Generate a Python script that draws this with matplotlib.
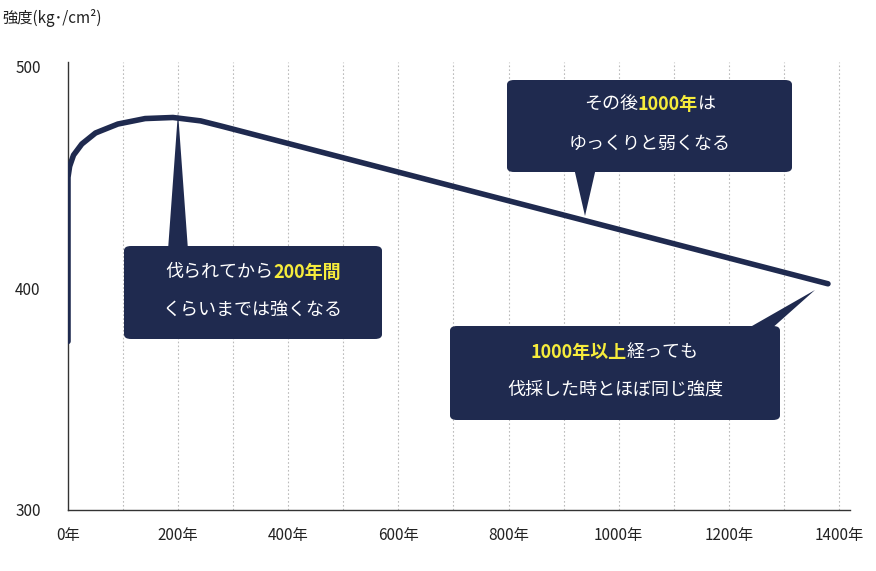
import matplotlib
matplotlib.use("Agg")
import matplotlib.pyplot as plt
import numpy as np
from matplotlib.patches import FancyBboxPatch, Polygon

plt.rcParams['font.family'] = ['Noto Sans CJK JP', 'DejaVu Sans']

years = [0, 0, 3, 10, 25, 50, 90, 140, 190, 240, 280, 1380]
strength = [376, 450, 455, 460, 465, 470, 474, 476.5, 477, 475.5, 473, 402]
xticks = [0, 200, 400, 600, 800, 1000, 1200, 1400]
xticklabels = ["0年", "200年", "400年", "600年", "800年", "1000年", "1200年", "1400年"]
yticks = [300, 400, 500]

W, H = 876, 571
navy = "#1f2a4f"
yellow = "#f6ec3c"
fig = plt.figure(figsize=(W/100, H/100), dpi=100)
ax = fig.add_axes([68/W, 1-510/H, (850-68)/W, (510-62)/H])
ax.set_xlim(0, 1420)
ax.set_ylim(300, 502)

# smooth curve through points
xs, ys = [], []
# vertical part
xs += [0, 0]; ys += [376, 450]
from numpy import interp
t = np.linspace(0, 1, 60)
px = np.array(years[1:11]); py = np.array(strength[1:11])
# parametric smooth via cumulative interpolation
s = np.concatenate([[0], np.cumsum(np.hypot(np.diff(px)/1420*782, np.diff(py)/200*448))])
ss = np.linspace(0, s[-1], 200)
xs += list(np.interp(ss, s, px)); ys += list(np.interp(ss, s, py))
xs += [years[-1]]; ys += [strength[-1]]
ax.plot(xs, ys, color=navy, lw=4, solid_capstyle='round', solid_joinstyle='round', zorder=3)

for x in range(100, 1500, 100):
    ax.axvline(x, color="#bbbbbb", lw=0.8, ls=(0, (1.5, 2)), zorder=0)
ax.set_xticks(xticks)
ax.set_xticklabels(xticklabels, fontsize=11, color="#222222")
ax.set_yticks(yticks)
ax.set_yticklabels([str(v) for v in yticks], fontsize=11, color="#222222")
ax.tick_params(length=0, pad=12)
ax.tick_params(axis='y', pad=38)
for sp in ['top', 'right']:
    ax.spines[sp].set_visible(False)
for sp in ['left', 'bottom']:
    ax.spines[sp].set_color("#333333"); ax.spines[sp].set_linewidth(1)
for lab in ax.get_yticklabels():
    lab.set_horizontalalignment('left')
fig.text(2/W, 1-18/H, "強度(kg･/cm²)", fontsize=11, va='center', ha='left', color="#222222")

def P(x, y):
    return (x/W, 1-y/H)

def box(x0, y0, x1, y1, tri):
    fig.patches.append(FancyBboxPatch(P(x0, y1), (x1-x0)/W, (y1-y0)/H,
        boxstyle="round,pad=0,rounding_size=0.008", transform=fig.transFigure,
        fc=navy, ec='none', zorder=5))
    fig.patches.append(Polygon([P(*p) for p in tri], closed=True, transform=fig.transFigure,
        fc=navy, ec='none', zorder=5))

r = fig.canvas.get_renderer()
def line(cx, cy, parts, fs=13):
    objs = [fig.text(0, 0, s, fontsize=fs, color=c, weight='bold' if c == yellow else 'normal',
                     va='center', ha='left', zorder=6) for s, c in parts]
    ws = [o.get_window_extent(r).width for o in objs]
    x = cx - sum(ws)/2
    for o, w in zip(objs, ws):
        o.set_position(P(x, cy)); x += w

box(124, 246, 382, 339, [(168, 250), (188, 250), (178, 112)])
line(253, 272, [("伐られてから", "white"), ("200年間", yellow)])
line(253, 310, [("くらいまでは強くなる", "white")])

box(507, 80, 792, 172, [(574, 168), (596, 168), (585, 216)])
line(650, 104, [("その後", "white"), ("1000年", yellow), ("は", "white")])
line(650, 144, [("ゆっくりと弱くなる", "white")])

box(450, 326, 780, 420, [(745, 330), (770, 330), (815, 290)])
line(615, 352, [("1000年以上", yellow), ("経っても", "white")])
line(615, 390, [("伐採した時とほぼ同じ強度", "white")])

fig.savefig("out.png", dpi=100)
